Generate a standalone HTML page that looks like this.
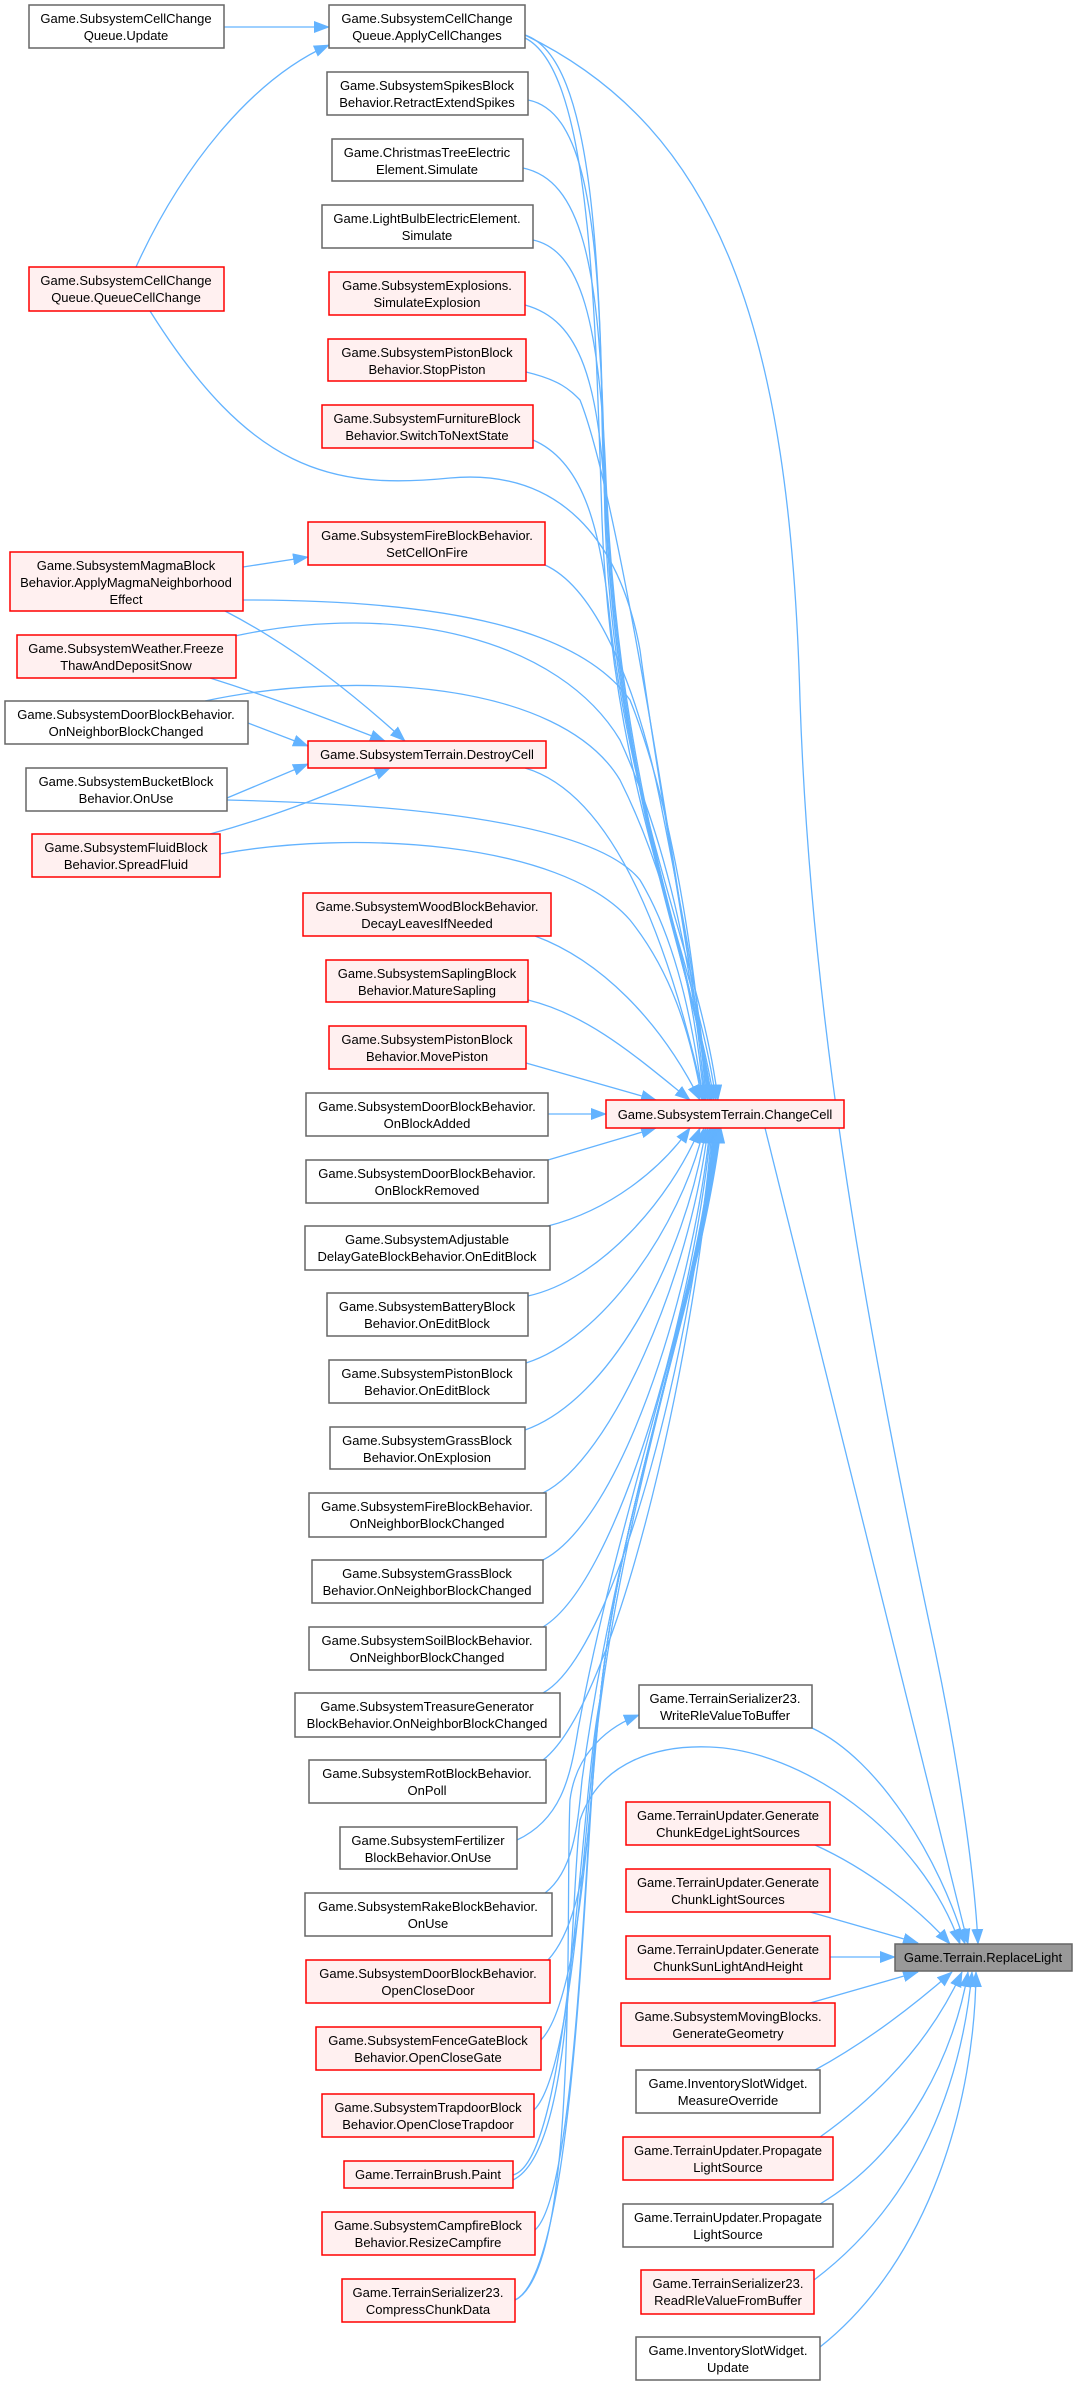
<!DOCTYPE html>
<html><head><meta charset="utf-8"><style>
html,body{margin:0;padding:0;background:#fff;}
svg{display:block;}
text{font-family:"Liberation Sans",Arial,sans-serif;font-size:13px;fill:#000;text-anchor:middle;}
.g{fill:#fff;stroke:#666;stroke-width:1.5;}
.r{fill:#fff0f0;stroke:#ff0000;stroke-width:1.5;}
.k{fill:#999;stroke:#666;stroke-width:1.5;}
.e{fill:none;stroke:#63b3ff;stroke-width:1.3;}
</style></head><body>
<svg width="1077" height="2384" viewBox="0 0 1077 2384" xmlns="http://www.w3.org/2000/svg">
<defs><marker id="a" markerUnits="userSpaceOnUse" markerWidth="16" markerHeight="12" refX="15" refY="6" orient="auto"><path d="M0,0 L16,6 L0,12 z" fill="#63b3ff"/></marker></defs>
<g marker-end="url(#a)">
<path class="e" d="M224,27 L329,27"/>
<path class="e" d="M136,267 C180,170 250,80 329,45"/>
<path class="e" d="M525,35 C600,60 600,300 605,520 C615,800 700,950 718,1100"/>
<path class="e" d="M525,38 C590,70 595,300 602,520 C612,800 695,950 716,1100"/>
<path class="e" d="M528,100 C580,110 600,200 602,420 C610,800 690,950 714,1100"/>
<path class="e" d="M523,168 C580,180 600,260 604,450 C615,800 690,950 712,1100"/>
<path class="e" d="M533,240 C580,250 600,320 606,480 C620,800 690,950 712,1100"/>
<path class="e" d="M525,305 C580,320 600,380 606,520 C620,800 690,950 711,1100"/>
<path class="e" d="M526,372 C560,380 570,390 580,400 C620,500 680,900 710,1100"/>
<path class="e" d="M533,440 C580,460 600,520 610,620 C630,800 690,950 710,1100"/>
<path class="e" d="M150,311 C250,470 330,490 450,478 C560,468 620,540 640,650 C660,800 690,950 708,1100"/>
<path class="e" d="M545,565 C600,590 640,700 660,800 C680,900 700,1000 708,1100"/>
<path class="e" d="M243,600 C450,600 580,630 630,700 C670,800 695,950 706,1100"/>
<path class="e" d="M235,636 C400,600 560,640 620,740 C670,850 695,980 705,1100"/>
<path class="e" d="M205,701 C350,670 560,680 620,780 C670,880 695,1000 704,1100"/>
<path class="e" d="M525,768 C600,790 660,900 704,1100"/>
<path class="e" d="M227,800 C450,805 600,830 640,880 C670,930 690,1000 703,1100"/>
<path class="e" d="M220,854 C350,830 560,840 630,920 C670,970 690,1030 702,1100"/>
<path class="e" d="M535,936 C600,960 660,1020 700,1100"/>
<path class="e" d="M528,1000 C590,1015 640,1060 690,1100"/>
<path class="e" d="M526,1063 L656,1100"/>
<path class="e" d="M548,1114 L606,1114"/>
<path class="e" d="M548,1160 L656,1128"/>
<path class="e" d="M548,1226 C610,1210 660,1170 690,1128"/>
<path class="e" d="M528,1296 C600,1280 670,1200 700,1128"/>
<path class="e" d="M526,1363 C600,1340 680,1230 704,1128"/>
<path class="e" d="M525,1430 C610,1400 685,1260 706,1128"/>
<path class="e" d="M543,1493 C610,1460 690,1280 708,1128"/>
<path class="e" d="M543,1560 C620,1520 692,1300 710,1128"/>
<path class="e" d="M543,1627 C620,1580 695,1300 711,1128"/>
<path class="e" d="M543,1693 C620,1650 698,1320 712,1128"/>
<path class="e" d="M543,1760 C620,1700 700,1330 713,1128"/>
<path class="e" d="M517,1840 C560,1820 570,1780 578,1730 C620,1500 700,1300 714,1128"/>
<path class="e" d="M545,1893 C575,1870 578,1820 582,1780 C620,1500 700,1300 715,1128"/>
<path class="e" d="M548,1960 C585,1920 590,1820 595,1750 C620,1500 700,1300 716,1128"/>
<path class="e" d="M541,2040 C580,2000 590,1800 600,1700 C620,1500 700,1300 717,1128"/>
<path class="e" d="M534,2110 C575,2070 585,1800 600,1700 C620,1500 700,1300 718,1128"/>
<path class="e" d="M513,2175 C570,2160 580,1800 600,1700 C620,1500 700,1300 719,1128"/>
<path class="e" d="M535,2230 C580,2190 585,1800 600,1700 C620,1500 700,1300 720,1128"/>
<path class="e" d="M515,2300 C580,2270 585,1800 600,1700 C620,1500 700,1300 721,1128"/>
<path class="e" d="M225,611 C300,650 360,700 405,741"/>
<path class="e" d="M210,678 C280,700 330,720 385,741"/>
<path class="e" d="M248,723 L308,746"/>
<path class="e" d="M227,798 L308,764"/>
<path class="e" d="M210,834 C280,815 340,790 390,768"/>
<path class="e" d="M243,567 L308,557"/>
<path class="e" d="M515,2300 C580,2270 565,1900 570,1800 C575,1760 600,1730 639,1715"/>
<path class="e" d="M525,35 C720,130 790,330 800,700 C810,1000 860,1300 935,1650 C960,1770 975,1880 978,1944"/>
<path class="e" d="M765,1128 L968,1944"/>
<path class="e" d="M812,1728 C880,1760 940,1860 965,1944"/>
<path class="e" d="M513,2180 C575,2150 570,1900 580,1820 C600,1760 660,1745 710,1747 C800,1750 920,1830 960,1944"/>
<path class="e" d="M815,1845 C870,1870 920,1910 950,1944"/>
<path class="e" d="M810,1912 L918,1943"/>
<path class="e" d="M830,1957 L895,1957"/>
<path class="e" d="M810,2003 L918,1972"/>
<path class="e" d="M815,2070 C870,2040 920,2000 952,1972"/>
<path class="e" d="M820,2137 C900,2080 940,2020 962,1972"/>
<path class="e" d="M820,2204 C910,2150 955,2050 968,1972"/>
<path class="e" d="M814,2280 C920,2200 962,2080 972,1972"/>
<path class="e" d="M820,2347 C930,2260 975,2100 976,1972"/>
</g>
<g>
<rect class="g" x="29" y="5" width="195" height="43"/><text x="126" y="23">Game.SubsystemCellChange</text><text x="126" y="40">Queue.Update</text>
<rect class="g" x="329" y="5" width="196" height="43"/><text x="427" y="23">Game.SubsystemCellChange</text><text x="427" y="40">Queue.ApplyCellChanges</text>
<rect class="g" x="327" y="72" width="201" height="43"/><text x="427" y="90">Game.SubsystemSpikesBlock</text><text x="427" y="107">Behavior.RetractExtendSpikes</text>
<rect class="g" x="332" y="139" width="191" height="42"/><text x="427" y="157">Game.ChristmasTreeElectric</text><text x="427" y="174">Element.Simulate</text>
<rect class="g" x="322" y="205" width="211" height="43"/><text x="427" y="223">Game.LightBulbElectricElement.</text><text x="427" y="240">Simulate</text>
<rect class="r" x="329" y="272" width="196" height="43"/><text x="427" y="290">Game.SubsystemExplosions.</text><text x="427" y="307">SimulateExplosion</text>
<rect class="r" x="328" y="339" width="198" height="42"/><text x="427" y="357">Game.SubsystemPistonBlock</text><text x="427" y="374">Behavior.StopPiston</text>
<rect class="r" x="322" y="405" width="211" height="43"/><text x="427" y="423">Game.SubsystemFurnitureBlock</text><text x="427" y="440">Behavior.SwitchToNextState</text>
<rect class="r" x="29" y="267" width="195" height="44"/><text x="126" y="285">Game.SubsystemCellChange</text><text x="126" y="302">Queue.QueueCellChange</text>
<rect class="r" x="308" y="522" width="237" height="43"/><text x="427" y="540">Game.SubsystemFireBlockBehavior.</text><text x="427" y="557">SetCellOnFire</text>
<rect class="r" x="10" y="552" width="233" height="59"/><text x="126" y="570">Game.SubsystemMagmaBlock</text><text x="126" y="587">Behavior.ApplyMagmaNeighborhood</text><text x="126" y="604">Effect</text>
<rect class="r" x="17" y="635" width="219" height="43"/><text x="126" y="653">Game.SubsystemWeather.Freeze</text><text x="126" y="670">ThawAndDepositSnow</text>
<rect class="g" x="5" y="701" width="243" height="43"/><text x="126" y="719">Game.SubsystemDoorBlockBehavior.</text><text x="126" y="736">OnNeighborBlockChanged</text>
<rect class="r" x="308" y="741" width="238" height="27"/><text x="427" y="759">Game.SubsystemTerrain.DestroyCell</text>
<rect class="g" x="26" y="768" width="201" height="43"/><text x="126" y="786">Game.SubsystemBucketBlock</text><text x="126" y="803">Behavior.OnUse</text>
<rect class="r" x="32" y="834" width="188" height="43"/><text x="126" y="852">Game.SubsystemFluidBlock</text><text x="126" y="869">Behavior.SpreadFluid</text>
<rect class="r" x="303" y="893" width="248" height="43"/><text x="427" y="911">Game.SubsystemWoodBlockBehavior.</text><text x="427" y="928">DecayLeavesIfNeeded</text>
<rect class="r" x="326" y="960" width="202" height="42"/><text x="427" y="978">Game.SubsystemSaplingBlock</text><text x="427" y="995">Behavior.MatureSapling</text>
<rect class="r" x="329" y="1026" width="197" height="43"/><text x="427" y="1044">Game.SubsystemPistonBlock</text><text x="427" y="1061">Behavior.MovePiston</text>
<rect class="r" x="606" y="1100" width="238" height="28"/><text x="725" y="1119">Game.SubsystemTerrain.ChangeCell</text>
<rect class="g" x="306" y="1093" width="242" height="43"/><text x="427" y="1111">Game.SubsystemDoorBlockBehavior.</text><text x="427" y="1128">OnBlockAdded</text>
<rect class="g" x="306" y="1160" width="242" height="43"/><text x="427" y="1178">Game.SubsystemDoorBlockBehavior.</text><text x="427" y="1195">OnBlockRemoved</text>
<rect class="g" x="305" y="1226" width="245" height="44"/><text x="427" y="1244">Game.SubsystemAdjustable</text><text x="427" y="1261">DelayGateBlockBehavior.OnEditBlock</text>
<rect class="g" x="327" y="1293" width="201" height="43"/><text x="427" y="1311">Game.SubsystemBatteryBlock</text><text x="427" y="1328">Behavior.OnEditBlock</text>
<rect class="g" x="329" y="1360" width="197" height="43"/><text x="427" y="1378">Game.SubsystemPistonBlock</text><text x="427" y="1395">Behavior.OnEditBlock</text>
<rect class="g" x="330" y="1427" width="195" height="42"/><text x="427" y="1445">Game.SubsystemGrassBlock</text><text x="427" y="1462">Behavior.OnExplosion</text>
<rect class="g" x="309" y="1493" width="237" height="44"/><text x="427" y="1511">Game.SubsystemFireBlockBehavior.</text><text x="427" y="1528">OnNeighborBlockChanged</text>
<rect class="g" x="312" y="1560" width="231" height="43"/><text x="427" y="1578">Game.SubsystemGrassBlock</text><text x="427" y="1595">Behavior.OnNeighborBlockChanged</text>
<rect class="g" x="309" y="1627" width="237" height="43"/><text x="427" y="1645">Game.SubsystemSoilBlockBehavior.</text><text x="427" y="1662">OnNeighborBlockChanged</text>
<rect class="g" x="295" y="1693" width="265" height="44"/><text x="427" y="1711">Game.SubsystemTreasureGenerator</text><text x="427" y="1728">BlockBehavior.OnNeighborBlockChanged</text>
<rect class="g" x="309" y="1760" width="237" height="43"/><text x="427" y="1778">Game.SubsystemRotBlockBehavior.</text><text x="427" y="1795">OnPoll</text>
<rect class="g" x="340" y="1827" width="177" height="42"/><text x="428" y="1845">Game.SubsystemFertilizer</text><text x="428" y="1862">BlockBehavior.OnUse</text>
<rect class="g" x="305" y="1893" width="247" height="43"/><text x="428" y="1911">Game.SubsystemRakeBlockBehavior.</text><text x="428" y="1928">OnUse</text>
<rect class="r" x="306" y="1960" width="244" height="43"/><text x="428" y="1978">Game.SubsystemDoorBlockBehavior.</text><text x="428" y="1995">OpenCloseDoor</text>
<rect class="r" x="316" y="2027" width="225" height="43"/><text x="428" y="2045">Game.SubsystemFenceGateBlock</text><text x="428" y="2062">Behavior.OpenCloseGate</text>
<rect class="r" x="322" y="2094" width="212" height="43"/><text x="428" y="2112">Game.SubsystemTrapdoorBlock</text><text x="428" y="2129">Behavior.OpenCloseTrapdoor</text>
<rect class="r" x="344" y="2161" width="169" height="27"/><text x="428" y="2179">Game.TerrainBrush.Paint</text>
<rect class="r" x="322" y="2212" width="213" height="43"/><text x="428" y="2230">Game.SubsystemCampfireBlock</text><text x="428" y="2247">Behavior.ResizeCampfire</text>
<rect class="r" x="342" y="2279" width="173" height="43"/><text x="428" y="2297">Game.TerrainSerializer23.</text><text x="428" y="2314">CompressChunkData</text>
<rect class="g" x="639" y="1685" width="173" height="43"/><text x="725" y="1703">Game.TerrainSerializer23.</text><text x="725" y="1720">WriteRleValueToBuffer</text>
<rect class="r" x="626" y="1802" width="204" height="43"/><text x="728" y="1820">Game.TerrainUpdater.Generate</text><text x="728" y="1837">ChunkEdgeLightSources</text>
<rect class="r" x="626" y="1869" width="204" height="43"/><text x="728" y="1887">Game.TerrainUpdater.Generate</text><text x="728" y="1904">ChunkLightSources</text>
<rect class="r" x="626" y="1936" width="204" height="43"/><text x="728" y="1954">Game.TerrainUpdater.Generate</text><text x="728" y="1971">ChunkSunLightAndHeight</text>
<rect class="r" x="621" y="2003" width="214" height="43"/><text x="728" y="2021">Game.SubsystemMovingBlocks.</text><text x="728" y="2038">GenerateGeometry</text>
<rect class="g" x="636" y="2070" width="184" height="43"/><text x="728" y="2088">Game.InventorySlotWidget.</text><text x="728" y="2105">MeasureOverride</text>
<rect class="r" x="623" y="2137" width="210" height="43"/><text x="728" y="2155">Game.TerrainUpdater.Propagate</text><text x="728" y="2172">LightSource</text>
<rect class="g" x="623" y="2204" width="210" height="43"/><text x="728" y="2222">Game.TerrainUpdater.Propagate</text><text x="728" y="2239">LightSource</text>
<rect class="r" x="641" y="2270" width="173" height="44"/><text x="728" y="2288">Game.TerrainSerializer23.</text><text x="728" y="2305">ReadRleValueFromBuffer</text>
<rect class="g" x="636" y="2337" width="184" height="43"/><text x="728" y="2355">Game.InventorySlotWidget.</text><text x="728" y="2372">Update</text>
<rect class="k" x="895" y="1944" width="177" height="27"/><text x="983" y="1962">Game.Terrain.ReplaceLight</text>
</g>
</svg>
</body></html>
